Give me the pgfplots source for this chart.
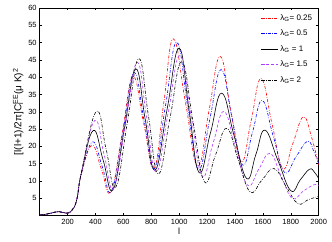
\documentclass[border=0pt]{standalone}
\usepackage{fontspec}
\setmainfont{Liberation Sans}
\usepackage{pgfplots}
\pgfplotsset{compat=1.18}
\definecolor{mpurple}{RGB}{175,60,255}
\begin{document}
\begin{tikzpicture}
\begin{axis}[
  scale only axis, width=279pt, height=207.6pt,
  xmin=0, xmax=2000, ymin=0, ymax=60,
  xtick={200,400,...,2000}, ytick={5,10,...,60},
  tick align=inside, major tick length=2.5pt,
  axis line style={line width=0.8pt},
  every tick/.style={black, line width=0.5pt},
  ticklabel style={font=\fontsize{7.5}{8}\selectfont},
  yticklabel style={xshift=0.5pt},
  /pgf/number format/assume math mode=true,
  /pgf/number format/set thousands separator={},
  xlabel={l}, xlabel style={font=\fontsize{9}{10}\selectfont, yshift=3pt},
  ylabel={[l(l+1)/2π]C\rlap{\textsubscript{l}}\textsuperscript{EE}(μ K)\textsuperscript{2}},
  ylabel style={font=\fontsize{10}{11}\selectfont, yshift=-2pt},
  legend style={at={(0.995,0.99)}, anchor=north east, draw=none, fill=none,
    font=\fontsize{8}{9}\selectfont, row sep=4.2pt},
  legend cell align=left,
  every axis plot/.append style={line width=0.6pt, smooth, tension=0.75},
]
\addplot[red, dash pattern=on 3pt off 1.5pt on 0.6pt off 1.5pt] coordinates {
(2,0.2)(40,0.35)(80,0.7)(138,1.15)(193,0.7)(230,1.5)(265,4.5)(300,12.3)(375,20.3)(442,13.5)(510,6.8)(590,23.4)(668,40.2)(744,27)(820,13.8)(889,32.5)(958,51.1)(1045,32.7)(1133,14.3)(1213,30.2)(1293,46)(1368,30.8)(1445,15.5)(1516,27.5)(1587,39.6)(1665,26.6)(1742,13.6)(1816,21)(1890,28.5)(1950,22.5)(2000,14.5)};
\addlegendentry{λ\textsubscript{G}= 0.25}
\addplot[blue, dash pattern=on 3pt off 1.5pt on 0.6pt off 1.5pt] coordinates {
(2,0.2)(40,0.35)(80,0.7)(138,1.15)(193,0.7)(230,1.5)(265,4.5)(300,12.4)(380,21.3)(448,14.2)(515,7.0)(596,24.2)(676,41.3)(749,27.4)(822,13.5)(902,31.8)(982,50.1)(1060,31.7)(1138,13.3)(1219,27.8)(1300,42.2)(1378,28.4)(1455,14.6)(1525,24)(1595,33.3)(1675,22.8)(1755,12.5)(1837,17)(1920,21.5)(1965,18.5)(2000,15)};
\addlegendentry{λ\textsubscript{G}= 0.5}
\addplot[black] coordinates {
(2,0.2)(40,0.35)(80,0.7)(138,1.15)(193,0.7)(230,1.5)(265,4.5)(300,12.5)(384,24.6)(455,16)(525,7.4)(606,24.9)(688,42.4)(757,27.7)(827,13.1)(913,30.7)(999,48.4)(1071,30.4)(1143,12.4)(1224,23.9)(1305,35.4)(1394,23)(1484,10.7)(1550,17.7)(1615,24.7)(1707,16)(1800,7.2)(1867,10.3)(1934,13.4)(1970,12.5)(2000,10.7)};
\addlegendentry{λ\textsubscript{G} = 1}
\addplot[mpurple, dash pattern=on 3pt off 2pt] coordinates {
(2,0.2)(40,0.35)(80,0.7)(138,1.15)(193,0.7)(230,1.5)(265,4.5)(300,12.6)(395,27.5)(462,17.6)(530,7.8)(614,26)(698,44.3)(766,28.5)(835,12.6)(920,29.5)(1005,46.3)(1085,28.9)(1164,11.4)(1242,20.8)(1321,30.1)(1405,19.5)(1490,8.8)(1570,13.4)(1651,18)(1730,11.5)(1810,5)(1887,7)(1965,8.9)(2000,8.6)};
\addlegendentry{λ\textsubscript{G}= 1.5}
\addplot[black, dash pattern=on 3pt off 1.5pt on 0.6pt off 1.5pt] coordinates {
(2,0.2)(40,0.35)(80,0.7)(138,1.15)(193,0.7)(230,1.5)(265,4.5)(300,12.7)(406,30.1)(476,19.2)(545,8.2)(628,26.8)(710,45.4)(780,28.7)(850,12)(934,28.2)(1018,44.5)(1099,27.2)(1180,9.8)(1260,17.5)(1341,25.2)(1424,16)(1508,6.9)(1594,10.3)(1680,13.6)(1765,8.5)(1850,3.5)(1925,4.6)(2000,5.6)};
\addlegendentry{λ\textsubscript{G}= 2}
\end{axis}
\pgfresetboundingbox
\path ([shift={(-39.7pt,-26.4pt)}]current axis.south west) rectangle ([shift={(13.3pt,8pt)}]current axis.north east);
\end{tikzpicture}
\end{document}
